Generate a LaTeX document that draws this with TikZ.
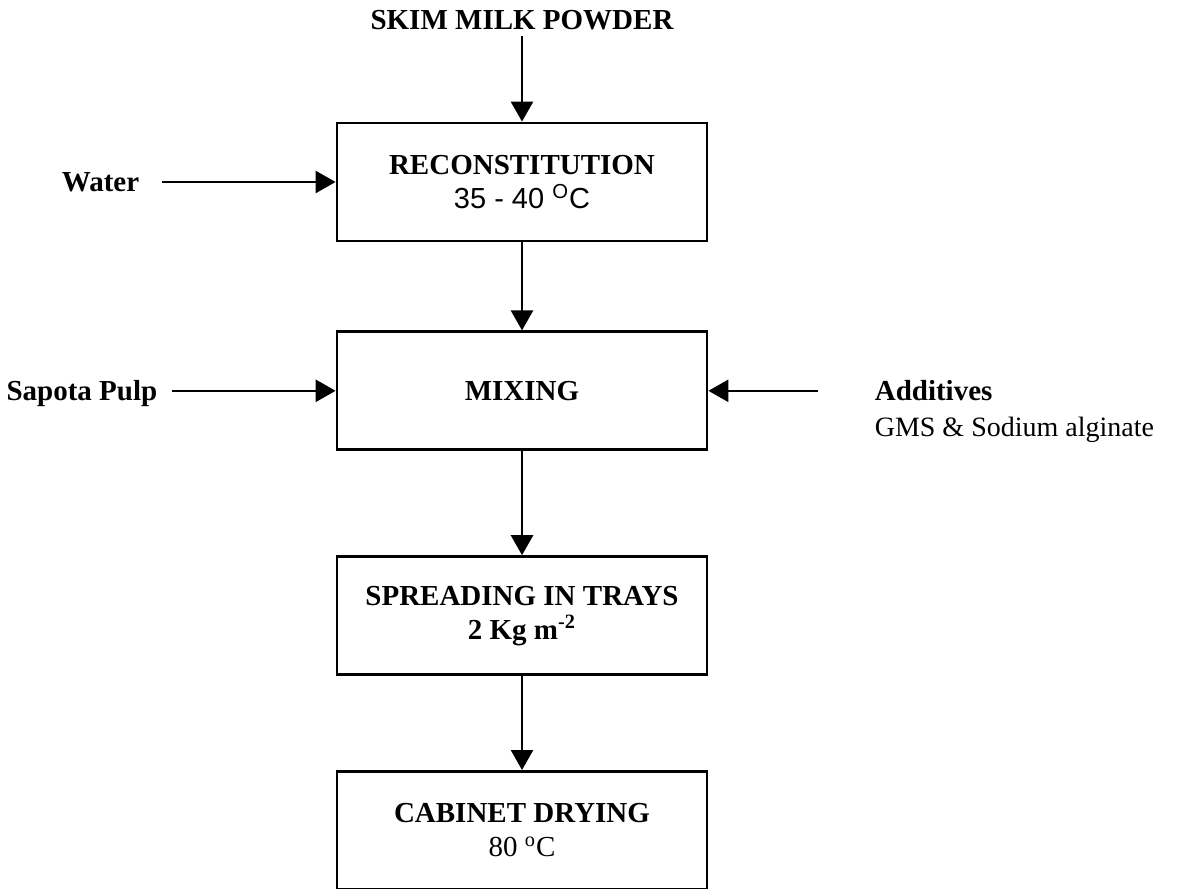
\documentclass[tikz,border=0pt]{standalone}
\usepackage{fontspec}
\setmainfont{Liberation Serif}
\newfontfamily\sansnum{Liberation Sans}
\usetikzlibrary{arrows.meta,positioning}
\tikzset{
  proc/.style={rectangle, draw=black, line width=1.4pt, minimum width=185pt, minimum height=59pt,
               align=center, font=\fontsize{14.5}{17}\selectfont\bfseries},
  lbl/.style={inner sep=3pt, text height=9.5pt, text depth=0pt, font=\fontsize{14.5}{17}\selectfont\bfseries},
  sub/.style={inner sep=3pt, text height=9.5pt, text depth=0pt, font=\fontsize{14}{17}\selectfont},
  ar/.style={-{Triangle[length=10pt,width=11pt]}, line width=1.3pt},
}
\begin{document}
\begin{tikzpicture}[x=0.5pt, y=-0.5pt]
\useasboundingbox (0,0) rectangle (1186,888);
\node[proc] (recon) at (522,182) {RECONSTITUTION\\{\mdseries\sansnum 35 - 40 \textsuperscript{O}C}};
\node[proc, below=44pt of recon] (mix) {MIXING};
\node[proc, below=52pt of mix] (spread) {SPREADING IN TRAYS\\2 Kg m\textsuperscript{-2}};
\node[proc, below=47pt of spread] (dry) {CABINET DRYING\\{\mdseries 80 \textsuperscript{o}C}};
\node[lbl, above=43pt of recon] (skim) {SKIM MILK POWDER};
\node[lbl, left=95pt of recon] (water) {Water};
\node[lbl, left=86pt of mix] (pulp) {Sapota Pulp};
\node[lbl, right=80pt of mix] (add) {Additives};
\node[sub, below right=2pt and 0pt of add.south west] (gms) {GMS \& Sodium alginate};
\draw[ar] (skim) -- (recon);
\draw[ar, shorten <=8pt] (water) -- (recon);
\draw[ar] (recon) -- (mix);
\draw[ar, shorten <=4pt] (pulp) -- (mix);
\draw[ar, shorten <=25pt] (add) -- (mix);
\draw[ar] (mix) -- (spread);
\draw[ar] (spread) -- (dry);
\end{tikzpicture}
\end{document}
